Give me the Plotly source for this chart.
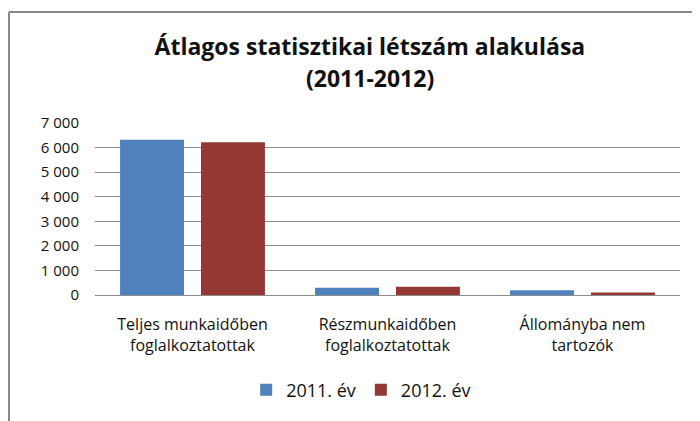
import plotly.graph_objects as go

categories = [
    "Teljes munkaidőben<br>foglalkoztatottak",
    "Részmunkaidőben<br>foglalkoztatottak",
    "Állományba nem<br>tartozók",
]
series_names = ["2011. év", "2012. év"]
values_2011 = [6320, 290, 195]
values_2012 = [6220, 335, 100]
colors = ["#4F81BD", "#953735"]
y_ticks = [0, 1000, 2000, 3000, 4000, 5000, 6000, 7000]

font_family = "Open Sans, sans-serif"

fig = go.Figure()
for name, vals, col in zip(series_names, [values_2011, values_2012], colors):
    fig.add_trace(
        go.Bar(
            x=categories,
            y=vals,
            name=name,
            marker=dict(color=col, line=dict(width=0)),
        )
    )

# frame of the chart, in paper units (plot area is 585 x 172 px)
frame_left = -0.147
frame_top = 1.645

fig.update_layout(
    width=700,
    height=421,
    margin=dict(l=87, r=28, t=115, b=134, autoexpand=False),
    paper_bgcolor="white",
    plot_bgcolor="white",
    separators=", ",
    font=dict(family=font_family, size=16, color="#111111"),
    barmode="group",
    bargap=0.17,
    bargroupgap=0.21,
    title=dict(
        text="<b>Átlagos statisztikai létszám alakulása</b>",
        x=0.517,
        xanchor="center",
        y=0.907,
        yanchor="middle",
        font=dict(family=font_family, size=23, color="#111111"),
    ),
    annotations=[
        dict(
            text="<b>(2011-2012)</b>",
            xref="paper",
            yref="paper",
            x=0.47,
            y=1.262,
            xanchor="center",
            yanchor="middle",
            showarrow=False,
            font=dict(family=font_family, size=23, color="#111111"),
        )
    ],
    xaxis=dict(
        showgrid=False,
        showline=False,
        ticks="",
        tickfont=dict(size=16),
        ticklabelstandoff=18,
    ),
    yaxis=dict(
        range=[0, 7000],
        tickvals=y_ticks,
        tickformat=",d",
        showgrid=True,
        gridcolor="#8C8C8C",
        gridwidth=1,
        zeroline=True,
        zerolinecolor="#8C8C8C",
        zerolinewidth=1,
        tickfont=dict(size=15),
        ticklabelstandoff=15,
    ),
    legend=dict(
        orientation="h",
        x=0.455,
        xanchor="center",
        y=-0.552,
        yanchor="middle",
        font=dict(size=18),
        itemwidth=30,
    ),
    shapes=[
        dict(
            type="line",
            xref="paper",
            yref="paper",
            x0=frame_left,
            x1=frame_left,
            y0=-0.8,
            y1=frame_top,
            line=dict(color="#888888", width=2),
        ),
        dict(
            type="line",
            xref="paper",
            yref="paper",
            x0=frame_left,
            x1=1.2,
            y0=frame_top,
            y1=frame_top,
            line=dict(color="#888888", width=2),
        ),
    ],
)

fig.write_html("out.html")
